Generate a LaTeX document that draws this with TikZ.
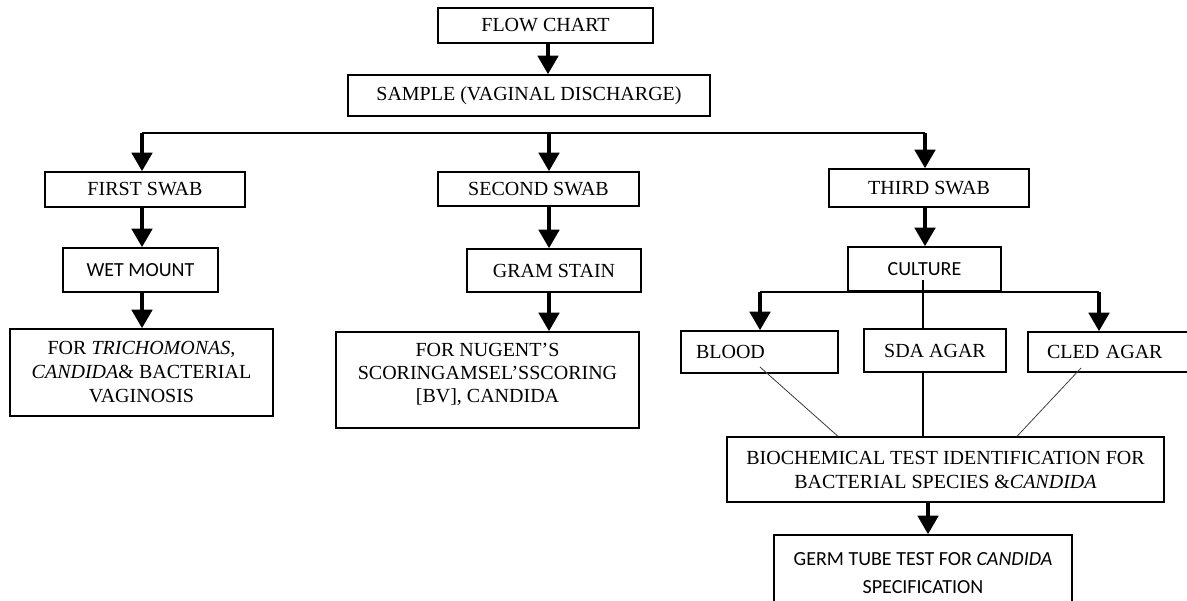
\documentclass[tikz,border=0pt]{standalone}
\usepackage{fontspec}
\setmainfont{Liberation Serif}
\newfontfamily\calibrifont{Carlito}
\usetikzlibrary{arrows.meta}
\begin{document}
\begin{tikzpicture}[x=0.75pt,y=-0.75pt,
  box/.style={draw, line width=1pt, fill=white, inner sep=2pt, align=center,
    font=\fontsize{15pt}{18pt}\selectfont},
  sbox/.style={box, font=\calibrifont\fontsize{15pt}{18pt}\selectfont},
  txt/.style={inner sep=0pt, align=center, font=\fontsize{15pt}{17.5pt}\selectfont},
  arr/.style={line width=3.7pt, -{Triangle[width=15pt,length=14pt]}},
  bus/.style={line width=1pt},
  thinline/.style={line width=0.6pt, black!75}]
\useasboundingbox (0,0) rectangle (1187,600);

% top
\node[box, minimum width=161.25pt, minimum height=26.25pt] (flow) at (545.5,25.5) {FLOW CHART};
\node[box, minimum width=271.5pt, minimum height=30.75pt] (sample) at (529,95.5) {SAMPLE (VAGINAL DISCHARGE)};

% first column
\node[box, minimum width=150pt, minimum height=26.25pt] (first) at (145,189.5) {FIRST SWAB};
\node[sbox, minimum width=116.25pt, minimum height=33pt] (wet) at (140.5,270) {WET MOUNT};
\node[box, minimum width=197.25pt, minimum height=65.25pt] (trich) at (141.5,372.5)
  {FOR \textit{TRICHOMONAS},\\ \textit{CANDIDA}\& BACTERIAL\\ VAGINOSIS};

% second column
\node[box, minimum width=150.75pt, minimum height=25.5pt] (second) at (538.5,189) {SECOND SWAB};
\node[box, minimum width=130.5pt, minimum height=32.25pt] (gram) at (554,270.5) {GRAM STAIN};
\node[box, minimum width=227.25pt, minimum height=72pt] (nugent) at (487.5,380) {};
\node[txt] (nugentT) at (487.5,374.5)
  {FOR NUGENT’S\\ SCORINGAMSEL’SSCORING\\{}[BV], CANDIDA};

% third column
\node[box, minimum width=150pt, minimum height=28.5pt] (third) at (929,188) {THIRD SWAB};
\node[sbox, minimum width=114.75pt, minimum height=33pt] (culture) at (924.5,269) {CULTURE};
\node[box, minimum height=31.5pt, inner xsep=11.25pt, text width=95.25pt, align=left] (blood) at (759.5,352) {BLOOD};
\node[box, minimum width=106.5pt, minimum height=32.25pt] (sda) at (935,350.5) {SDA AGAR};
\node[box, minimum height=30pt, inner xsep=14.25pt, text width=100.5pt, align=left] (cled) at (1114,352) {CLED AGAR};
\node[box, minimum width=327.75pt, minimum height=48.75pt] (biochem) at (945.5,469.5)
  {BIOCHEMICAL TEST IDENTIFICATION FOR\\ BACTERIAL SPECIES \&\textit{CANDIDA}};
\node[sbox, minimum width=223.5pt, minimum height=57pt,
  font=\calibrifont\fontsize{15pt}{21pt}\selectfont] (germ) at (923,573)
  {GERM TUBE TEST FOR \textit{CANDIDA}\\ SPECIFICATION};

% column coordinates
\coordinate (cF) at (548,0);
\coordinate (cA) at (142,133);
\coordinate (cB) at (549,133);
\coordinate (cC) at (925,133);
\coordinate (dL) at (760,292);
\coordinate (dR) at (1099,292);
\coordinate (dM) at (923,280);
\coordinate (bI) at (760,367);
\coordinate (bE) at (838,437);
\coordinate (kI) at (1081,368);
\coordinate (kE) at (1017,437);
\coordinate (cG) at (928,0);

% connectors
\draw[arr] (flow.south -| cF) -- (sample.north -| cF);
\draw[bus] (cA) -- (cC);
\draw[arr] (cA) -- (first.north -| cA);
\draw[arr] (first.south -| cA) -- (wet.north -| cA);
\draw[arr] (wet.south -| cA) -- (trich.north -| cA);
\draw[arr] (cB) -- (second.north -| cB);
\draw[arr] (second.south -| cB) -- (gram.north -| cB);
\draw[arr] (gram.south -| cB) -- (nugent.north -| cB);
\draw[arr] (cC) -- (third.north -| cC);
\draw[arr] (third.south -| cC) -- (culture.north -| cC);
\draw[bus] (dL) -- (dR);
\draw[arr] (dL) -- (blood.north -| dL);
\draw[arr] (dR) -- (cled.north -| dR);
\draw[line width=0.8pt] (dM) -- (sda.north -| dM);
\draw[line width=0.8pt] (sda.south -| dM) -- (biochem.north -| dM);
\draw[thinline] (bI) -- (biochem.north -| bE);
\draw[thinline] (kI) -- (biochem.north -| kE);
\draw[arr] (biochem.south -| cG) -- (germ.north -| cG);
\end{tikzpicture}
\end{document}
